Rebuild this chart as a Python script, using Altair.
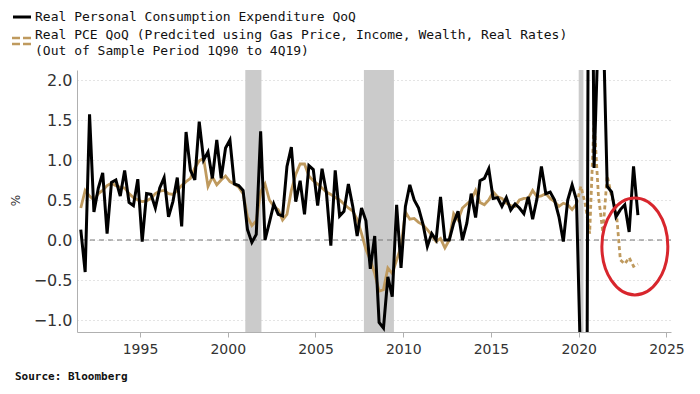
import altair as alt
import pandas as pd

# ---------------- data (quarterly, mid-quarter positions, first = Q3 1991) ----------------
first_quarter = 1991.625
actual = [
    0.13, -0.40, 1.57, 0.35, 0.65, 0.84, 0.08, 0.72, 0.75, 0.55,
    0.87, 0.47, 0.43, 0.76, -0.02, 0.58, 0.57, 0.40, 0.65, 0.78,
    0.29, 0.48, 0.78, 0.17, 1.35, 0.87, 0.75, 1.48, 1.00, 1.10,
    0.77, 1.25, 0.77, 1.15, 1.25, 0.70, 0.68, 0.62, 0.13, -0.03,
    0.07, 1.36, 0.00, 0.22, 0.45, 0.32, 0.30, 0.92, 1.16, 0.48,
    0.74, 0.32, 0.93, 0.88, 0.43, 0.89, 0.59, -0.07, 0.87, 0.30,
    0.36, 0.70, 0.42, 0.05, 0.40, 0.24, -0.36, 0.05, -1.03, -1.10,
    -0.46, -0.71, 0.44, -0.35, 0.42, 0.69, 0.50, 0.40, 0.20, -0.08,
    0.08, 0.00, 0.54, 0.00, 0.00, 0.21, 0.36, 0.00, 0.21, 0.58,
    0.28, 0.74, 0.77, 0.89, 0.52, 0.53, 0.42, 0.53, 0.375, 0.45,
    0.40, 0.33, 0.54, 0.26, 0.52, 0.92, 0.58, 0.60, 0.50, 0.29,
    -0.02, 0.50, 0.69, 0.50, -1.70, -8.90, 8.90, 0.90, 2.70, 2.90,
    0.67, 0.60, 0.29, 0.38, 0.44, 0.10, 0.92, 0.31,
]
pred_in_sample = [
    0.40, 0.62, 0.55, 0.50, 0.58, 0.62, 0.68, 0.71, 0.68, 0.66,
    0.65, 0.58, 0.53, 0.50, 0.48, 0.49, 0.52, 0.58, 0.61, 0.62,
    0.58, 0.57, 0.62, 0.68, 0.73, 0.77, 0.90, 0.99, 1.02, 0.67,
    0.79, 0.69, 0.75, 0.80, 0.73, 0.70, 0.66, 0.58, 0.29, 0.18,
    0.24, 0.60, 0.70, 0.50, 0.42, 0.38, 0.25, 0.32, 0.62, 0.82,
    0.95, 0.95, 0.80, 0.74, 0.70, 0.65, 0.60, 0.57, 0.53, 0.50,
    0.45, 0.40, 0.36, 0.26, 0.08, -0.12, -0.25, -0.42, -0.64, -0.62,
    -0.35, -0.42, -0.25, -0.08, 0.35, 0.26, 0.27, 0.22, 0.19, 0.13,
    0.06, -0.02, 0.02, -0.10, 0.00, 0.33, 0.25, 0.40, 0.45, 0.50,
    0.62, 0.47, 0.44, 0.50, 0.60, 0.54, 0.52, 0.46, 0.43, 0.42,
    0.50, 0.52, 0.52, 0.62, 0.54, 0.55, 0.58, 0.52, 0.48, 0.42,
    0.46, 0.44, 0.38, 0.45,
]
pred_out_sample = [0.67, 0.45, 0.08, 1.50, 0.55, 0.10, 0.80, 0.55, 0.40,
                   -0.25, -0.30, -0.22, -0.33, -0.30]

recession_start = [2001.0, 2007.76, 2020.0]
recession_end = [2001.92, 2009.47, 2020.27]

x_ticks = [1995, 2000, 2005, 2010, 2015, 2020, 2025]
y_ticks = [-1.0, -0.5, 0.0, 0.5, 1.0, 1.5, 2.0]

highlight_year = [2023.2]
highlight_value = [-0.08]

legend_lines = [
    "Real Personal Consumption Expenditure QoQ",
    "Real PCE QoQ (Predcited using Gas Price, Income, Wealth, Real Rates)",
    "(Out of Sample Period 1Q90 to 4Q19)",
]

# ---------------- frames ----------------
dates = [first_quarter + 0.25 * k for k in range(len(actual))]
df_actual = pd.DataFrame({"date": dates, "value": actual})
n_in = len(pred_in_sample)
df_pin = pd.DataFrame({"date": dates[:n_in], "value": pred_in_sample})
df_pout = pd.DataFrame({
    "date": dates[n_in - 1:n_in + len(pred_out_sample)],
    "value": [pred_in_sample[-1]] + pred_out_sample,
})
df_rec = pd.DataFrame({"start": recession_start, "end": recession_end})
df_circle = pd.DataFrame({"date": highlight_year, "value": highlight_value})

XDOM = [1991.41, 2025.26]
YDOM = [-1.15, 2.125]
GOLD = "#bf9a5e"
SANS = "DejaVu Sans"
MONO = "DejaVu Sans Mono"

xscale = alt.Scale(domain=XDOM, nice=False, zero=False)
yscale = alt.Scale(domain=YDOM, nice=False, zero=False)

x_axis = alt.Axis(values=x_ticks, format="d", title=None, grid=False,
                  domainColor="#b0b0b0", tickColor="#b0b0b0", tickSize=5,
                  labelFont=SANS, labelFontSize=14, labelColor="#333333",
                  labelPadding=5)
y_axis = alt.Axis(values=y_ticks, format=".1f", title="%", grid=True,
                  gridColor="#c8c8c8", gridDash=[1, 3], gridWidth=1,
                  domainColor="#b0b0b0", ticks=False, labelPadding=5,
                  labelFont=SANS, labelFontSize=16, labelColor="#333333",
                  titleFont=SANS, titleFontSize=12, titleFontWeight="normal",
                  titleColor="#333333", titleAngle=270, titleX=-62, titleY=130,
                  titleAlign="center", titleBaseline="middle")

bands = alt.Chart(df_rec).mark_rect(color="#cbcbcb").encode(
    x=alt.X("start:Q", scale=xscale, axis=x_axis),
    x2="end:Q",
)

base_axes = alt.Chart(df_actual).mark_line(opacity=0).encode(
    x=alt.X("date:Q", scale=xscale, axis=x_axis),
    y=alt.Y("value:Q", scale=yscale, axis=y_axis),
)

zero_rule = alt.Chart(pd.DataFrame({"v": [0.0]})).mark_rule(
    color="#777777", strokeDash=[5, 4], strokeWidth=1
).encode(y=alt.Y("v:Q", scale=yscale))

pred_in_line = alt.Chart(df_pin).mark_line(color=GOLD, strokeWidth=2.8, clip=True).encode(
    x=alt.X("date:Q", scale=xscale), y=alt.Y("value:Q", scale=yscale))
pred_out_line = alt.Chart(df_pout).mark_line(color=GOLD, strokeWidth=2.8,
                                               strokeDash=[4, 3], clip=True).encode(
    x=alt.X("date:Q", scale=xscale), y=alt.Y("value:Q", scale=yscale))
actual_line = alt.Chart(df_actual).mark_line(color="#000000", strokeWidth=3,
                                               clip=True).encode(
    x=alt.X("date:Q", scale=xscale), y=alt.Y("value:Q", scale=yscale))

circle = alt.Chart(df_circle).mark_point(
    shape="M 0 -1 A 0.68 1 0 1 1 0 1 A 0.68 1 0 1 1 0 -1 Z",
    size=9409, filled=False, color="#d8262d", strokeWidth=3, opacity=1,
).encode(x=alt.X("date:Q", scale=xscale), y=alt.Y("value:Q", scale=yscale))

# ---------------- legend / source (placed above & below the plot) ----------------
legend_text = alt.Chart(pd.DataFrame({
    "t": legend_lines, "py": [-53, -35, -19]
})).mark_text(align="left", baseline="middle", font=MONO, fontSize=13,
              color="#111111").encode(
    text="t:N", x=alt.value(-42), y=alt.Y("py:Q", scale=None))

legend_black = alt.Chart(pd.DataFrame({"a": [0]})).mark_rule(
    color="#000000", strokeWidth=3).encode(
    x=alt.value(-64), x2=alt.value(-46), y=alt.value(-53))

legend_gold = alt.Chart(pd.DataFrame({"py": [-32, -26]})).mark_rule(
    color=GOLD, strokeWidth=2.5, strokeDash=[8, 3]).encode(
    x=alt.value(-65), x2=alt.value(-46), y=alt.Y("py:Q", scale=None))

source = alt.Chart(pd.DataFrame({"t": ["Source: Bloomberg"]})).mark_text(
    align="left", baseline="middle", font=MONO, fontSize=11, fontWeight="bold",
    color="#111111").encode(text="t:N", x=alt.value(-62), y=alt.value(307))

chart = alt.layer(
    bands, base_axes, zero_rule, pred_in_line, pred_out_line, actual_line,
    circle, legend_text, legend_black, legend_gold, source,
).properties(
    width=594, height=262,
    padding={"left": 69, "top": 62, "right": 20, "bottom": 54},
    autosize=alt.AutoSizeParams(type="none"),
    background="white",
).configure_view(stroke=None)

chart.save("out.html", embed_options={"renderer": "svg", "actions": False})
